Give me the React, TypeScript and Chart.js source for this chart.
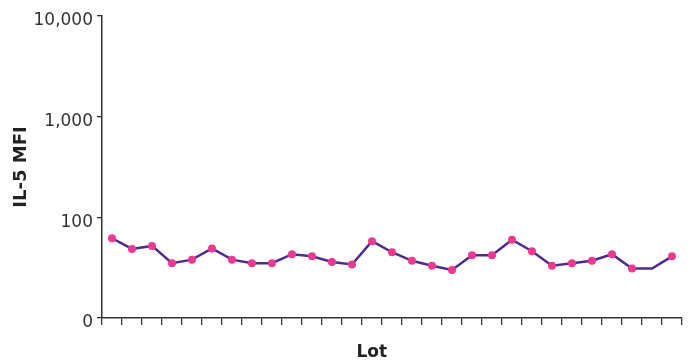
import React, { useEffect, useRef } from "react";
import { Chart, registerables } from "chart.js";

Chart.register(...registerables);

const lots: string[] = Array.from({ length: 29 }, (_, i) => `Lot ${i + 1}`);
const mfiValues: number[] = [
  62, 48.5, 52, 35, 38, 49, 38, 35, 35, 43, 41, 36, 34, 58, 45,
  37, 33, 30, 42, 42, 60, 46, 33, 35, 37, 43, 31, 31, 41,
];
const markerShown: boolean[] = mfiValues.map((_, i) => i !== 27);
const yTickValues: number[] = [10, 100, 1000, 10000];
const yTickLabels: string[] = ["0", "100", "1,000", "10,000"];

const FONT = "'DejaVu Sans', Verdana, sans-serif";
const AXIS = "#333333";

export default function App() {
  const ref = useRef<HTMLCanvasElement | null>(null);

  useEffect(() => {
    if (!ref.current) return;
    const xTitlePlugin = {
      id: "xTitle",
      afterDraw(chart: any) {
        const { ctx, chartArea } = chart;
        ctx.save();
        ctx.font = `bold 17px ${FONT}`;
        ctx.fillStyle = "#222";
        ctx.textAlign = "center";
        ctx.textBaseline = "alphabetic";
        ctx.fillText("Lot", chartArea.left + chartArea.width * 0.465, chartArea.bottom + 39);
        ctx.restore();
      },
    };
    const chart = new Chart(ref.current, {
      type: "line",
      data: {
        labels: lots,
        datasets: [
          {
            data: mfiValues,
            borderColor: "#4E2B8F",
            borderWidth: 2.5,
            pointBackgroundColor: "#EC3A91",
            pointBorderColor: "#EC3A91",
            pointRadius: markerShown.map((s) => (s ? 4 : 0)),
            pointBorderWidth: 0,
            tension: 0,
          },
        ],
      },
      options: {
        responsive: false,
        animation: false,
        layout: { padding: { top: 16, right: 12, left: 0, bottom: 0 } },
        plugins: { legend: { display: false }, tooltip: { enabled: false } },
        scales: {
          x: {
            type: "category",
            offset: true,
            grid: {
              offset: true,
              drawOnChartArea: false,
              drawTicks: true,
              tickLength: 7,
              color: AXIS,
              lineWidth: 1.3,
            },
            border: { display: true, color: AXIS, width: 1.5 },
            ticks: { display: false },
            afterFit(scale: any) {
              scale.height = 42;
            },
          },
          y: {
            type: "logarithmic",
            min: 10,
            max: 10000,
            afterBuildTicks(scale: any) {
              scale.ticks = yTickValues.map((v) => ({ value: v }));
            },
            afterFit(scale: any) {
              scale.width = 102;
            },
            grid: {
              drawOnChartArea: false,
              drawTicks: true,
              tickLength: 5,
              color: AXIS,
              lineWidth: 1.3,
            },
            border: { display: true, color: AXIS, width: 1.5 },
            ticks: {
              padding: 4,
              labelOffset: 5,
              color: "#333",
              font: { family: FONT, size: 17 },
              callback: (v: any) => {
                const i = yTickValues.indexOf(Number(v));
                return i >= 0 ? yTickLabels[i] : "";
              },
            },
            title: {
              display: true,
              text: "IL-5 MFI",
              color: "#222",
              font: { family: FONT, size: 18, weight: "bold" },
              padding: { top: 11, bottom: 0 },
            },
          },
        },
      },
      plugins: [xTitlePlugin],
    } as any);
    return () => chart.destroy();
  }, []);

  return (
    <div style={{ position: "absolute", left: 0, top: 0, width: 694, height: 360 }}>
      <canvas ref={ref} width={694} height={360} style={{ display: "block" }} />
    </div>
  );
}
